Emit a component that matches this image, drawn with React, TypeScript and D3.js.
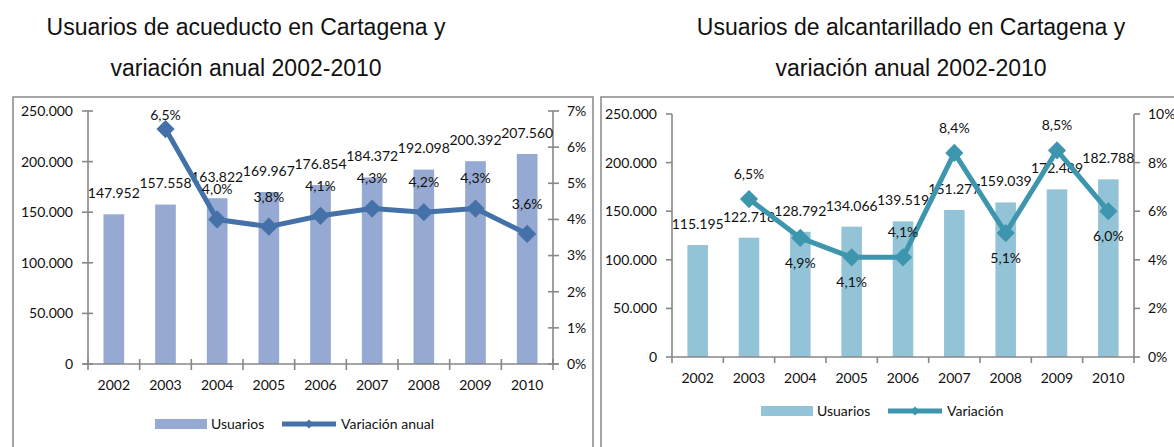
import React from "react";
import * as d3 from "d3";

// values
const years = ["2002", "2003", "2004", "2005", "2006", "2007", "2008", "2009", "2010"];
const acueductoUsuarios = [147952, 157558, 163822, 169967, 176854, 184372, 192098, 200392, 207560];
const acueductoVariacion = [null, 6.5, 4.0, 3.8, 4.1, 4.3, 4.2, 4.3, 3.6];
const alcantarilladoUsuarios = [115195, 122718, 128792, 134066, 139519, 151277, 159039, 172489, 182788];
const alcantarilladoVariacion = [null, 6.5, 4.9, 4.1, 4.1, 8.4, 5.1, 8.5, 6.0];
const usersTicks = [0, 50000, 100000, 150000, 200000, 250000];
const pctTicksAcueducto = [0, 1, 2, 3, 4, 5, 6, 7];
const pctTicksAlcantarillado = [0, 2, 4, 6, 8, 10];

const es = d3.formatLocale({ decimal: ",", thousands: ".", grouping: [3], currency: ["$", ""] });
const fmtInt = es.format(",d");
const fmtPct1 = es.format(",.1f");

const FONT = "Lato, 'Open Sans', sans-serif";
const TITLE_FONT = "'Liberation Sans', Arial, sans-serif";

type ChartProps = {
  title: string[];
  titleX: number;
  frame: { x: number; y: number; w: number; h: number };
  x0: number;
  x1: number;
  yTop: number;
  yBottom: number;
  users: number[];
  variation: (number | null)[];
  pctTicks: number[];
  barColor: string;
  lineColor: string;
  crossTicks: boolean;
  labelMode: "above" | "alternate";
  labelOffset: number;
  lineName: string;
  legendY: number;
  legendX: number;
};

const Chart = (p: ChartProps) => {
  const x = d3.scaleBand<string>().domain(years).range([p.x0, p.x1]);
  const bw = x.bandwidth();
  const barW = bw * 0.4;
  const yU = d3.scaleLinear().domain([0, 250000]).range([p.yBottom, p.yTop]);
  const yP = d3
    .scaleLinear()
    .domain([0, p.pctTicks[p.pctTicks.length - 1]])
    .range([p.yBottom, p.yTop]);

  const pts = p.variation
    .map((v, i) => ({ v, i, year: years[i] }))
    .filter((d) => d.v !== null) as { v: number; i: number; year: string }[];
  const cx = (yr: string) => (x(yr) as number) + bw / 2;
  const line = d3
    .line<{ v: number; year: string }>()
    .x((d) => cx(d.year))
    .y((d) => yP(d.v));
  const diamond = d3.symbol(d3.symbolSquare, 165)();
  const smallDiamond = d3.symbol(d3.symbolSquare, 40)();

  const axisColor = "#878787";
  const tIn = p.crossTicks ? 5 : 0;
  const tOut = 6;

  return (
    <g>
      <rect
        x={p.frame.x}
        y={p.frame.y}
        width={p.frame.w}
        height={p.frame.h}
        fill="#fff"
        stroke="#8f8f8f"
        strokeWidth={1.6}
      />
      {p.title.map((t, i) => (
        <text
          key={i}
          x={p.titleX}
          y={35 + i * 41}
          textAnchor="middle"
          fontFamily={TITLE_FONT}
          fontSize={23}
          fill="#111"
        >
          {t}
        </text>
      ))}

      {/* bars */}
      {p.users.map((u, i) => (
        <rect
          key={years[i]}
          x={cx(years[i]) - barW / 2}
          y={yU(u)}
          width={barW}
          height={p.yBottom - yU(u)}
          fill={p.barColor}
        />
      ))}

      {/* axes */}
      <g stroke={axisColor} strokeWidth={1.6} fill="none">
        <line x1={p.x0} x2={p.x0} y1={p.yTop} y2={p.yBottom} />
        <line x1={p.x1} x2={p.x1} y1={p.yTop} y2={p.yBottom} />
        <line x1={p.x0 - (p.crossTicks ? 5 : 0)} x2={p.x1 + (p.crossTicks ? 5 : 0)} y1={p.yBottom} y2={p.yBottom} />
        {usersTicks.map((t) => (
          <line key={"u" + t} x1={p.x0 - tOut} x2={p.x0 + tIn} y1={yU(t)} y2={yU(t)} />
        ))}
        {p.pctTicks.map((t) => (
          <line key={"p" + t} x1={p.x1 - tIn} x2={p.x1 + tOut} y1={yP(t)} y2={yP(t)} />
        ))}
        {years.concat(["end"]).map((yr, i) => {
          const xx = p.x0 + i * bw;
          return <line key={"x" + yr} x1={xx} x2={xx} y1={p.yBottom - tIn} y2={p.yBottom + tOut} />;
        })}
      </g>

      <g fontFamily={FONT} fontSize={14} fill="#111">
        {usersTicks.map((t) => (
          <text key={"ul" + t} x={p.x0 - 15} y={yU(t)} dy="0.35em" textAnchor="end">
            {fmtInt(t)}
          </text>
        ))}
        {p.pctTicks.map((t) => (
          <text key={"pl" + t} x={p.x1 + 14} y={yP(t)} dy="0.35em" textAnchor="start">
            {t + "%"}
          </text>
        ))}
        {years.map((yr) => (
          <text key={"xl" + yr} x={cx(yr)} y={p.yBottom + 26} textAnchor="middle">
            {yr}
          </text>
        ))}
        {p.users.map((u, i) => (
          <text key={"bl" + i} x={cx(years[i])} y={yU(u) - 21} dy="0.35em" textAnchor="middle">
            {fmtInt(u)}
          </text>
        ))}
      </g>

      {/* variation line */}
      <path
        d={line(pts) || ""}
        fill="none"
        stroke={p.lineColor}
        strokeWidth={5}
        strokeLinejoin="round"
      />
      {pts.map((d) => (
        <path
          key={"m" + d.year}
          d={diamond || ""}
          transform={`translate(${cx(d.year)},${yP(d.v)}) rotate(45)`}
          fill={p.lineColor}
        />
      ))}
      <g fontFamily={FONT} fontSize={14} fill="#111">
        {pts.map((d) => {
          const prev = d.i > 0 ? p.variation[d.i - 1] : null;
          const below = p.labelMode === "alternate" && prev !== null && d.v < prev;
          const ly = below
            ? yP(d.v) + p.labelOffset
            : Math.max(yP(d.v) - p.labelOffset, p.yTop + 4);
          return (
            <text key={"vl" + d.year} x={cx(d.year)} y={ly} dy="0.35em" textAnchor="middle">
              {fmtPct1(d.v) + "%"}
            </text>
          );
        })}
      </g>

      {/* legend */}
      <g fontFamily={FONT} fontSize={14} fill="#111">
        <rect x={p.legendX} y={p.legendY - 5} width={52} height={10} fill={p.barColor} />
        <text x={p.legendX + 56} y={p.legendY} dy="0.35em">
          Usuarios
        </text>
        <line
          x1={p.legendX + 127}
          x2={p.legendX + 181}
          y1={p.legendY}
          y2={p.legendY}
          stroke={p.lineColor}
          strokeWidth={5}
        />
        <path
          d={smallDiamond || ""}
          transform={`translate(${p.legendX + 154},${p.legendY}) rotate(45)`}
          fill={p.lineColor}
        />
        <text x={p.legendX + 186} y={p.legendY} dy="0.35em">
          {p.lineName}
        </text>
      </g>
    </g>
  );
};

const App = () => {
  return (
    <svg
      width={1174}
      height={447}
      style={{ position: "absolute", left: 0, top: 0, background: "#fff" }}
    >
      <Chart
        title={["Usuarios de acueducto en Cartagena y", "variación anual 2002-2010"]}
        titleX={246}
        frame={{ x: 13, y: 97, w: 580, h: 370 }}
        x0={88}
        x1={553}
        yTop={111}
        yBottom={364}
        users={acueductoUsuarios}
        variation={acueductoVariacion}
        pctTicks={pctTicksAcueducto}
        barColor="#95A9D2"
        lineColor="#4471A8"
        crossTicks={true}
        labelMode="above"
        labelOffset={30}
        lineName="Variación anual"
        legendY={424}
        legendX={155}
      />
      <Chart
        title={["Usuarios de alcantarillado en Cartagena y", "variación anual 2002-2010"]}
        titleX={911}
        frame={{ x: 601, y: 97, w: 600, h: 370 }}
        x0={672}
        x1={1134}
        yTop={114}
        yBottom={357}
        users={alcantarilladoUsuarios}
        variation={alcantarilladoVariacion}
        pctTicks={pctTicksAlcantarillado}
        barColor="#93C3D6"
        lineColor="#3D96AE"
        crossTicks={false}
        labelMode="alternate"
        labelOffset={25}
        lineName="Variación"
        legendY={411}
        legendX={761}
      />
    </svg>
  );
};

export default App;
